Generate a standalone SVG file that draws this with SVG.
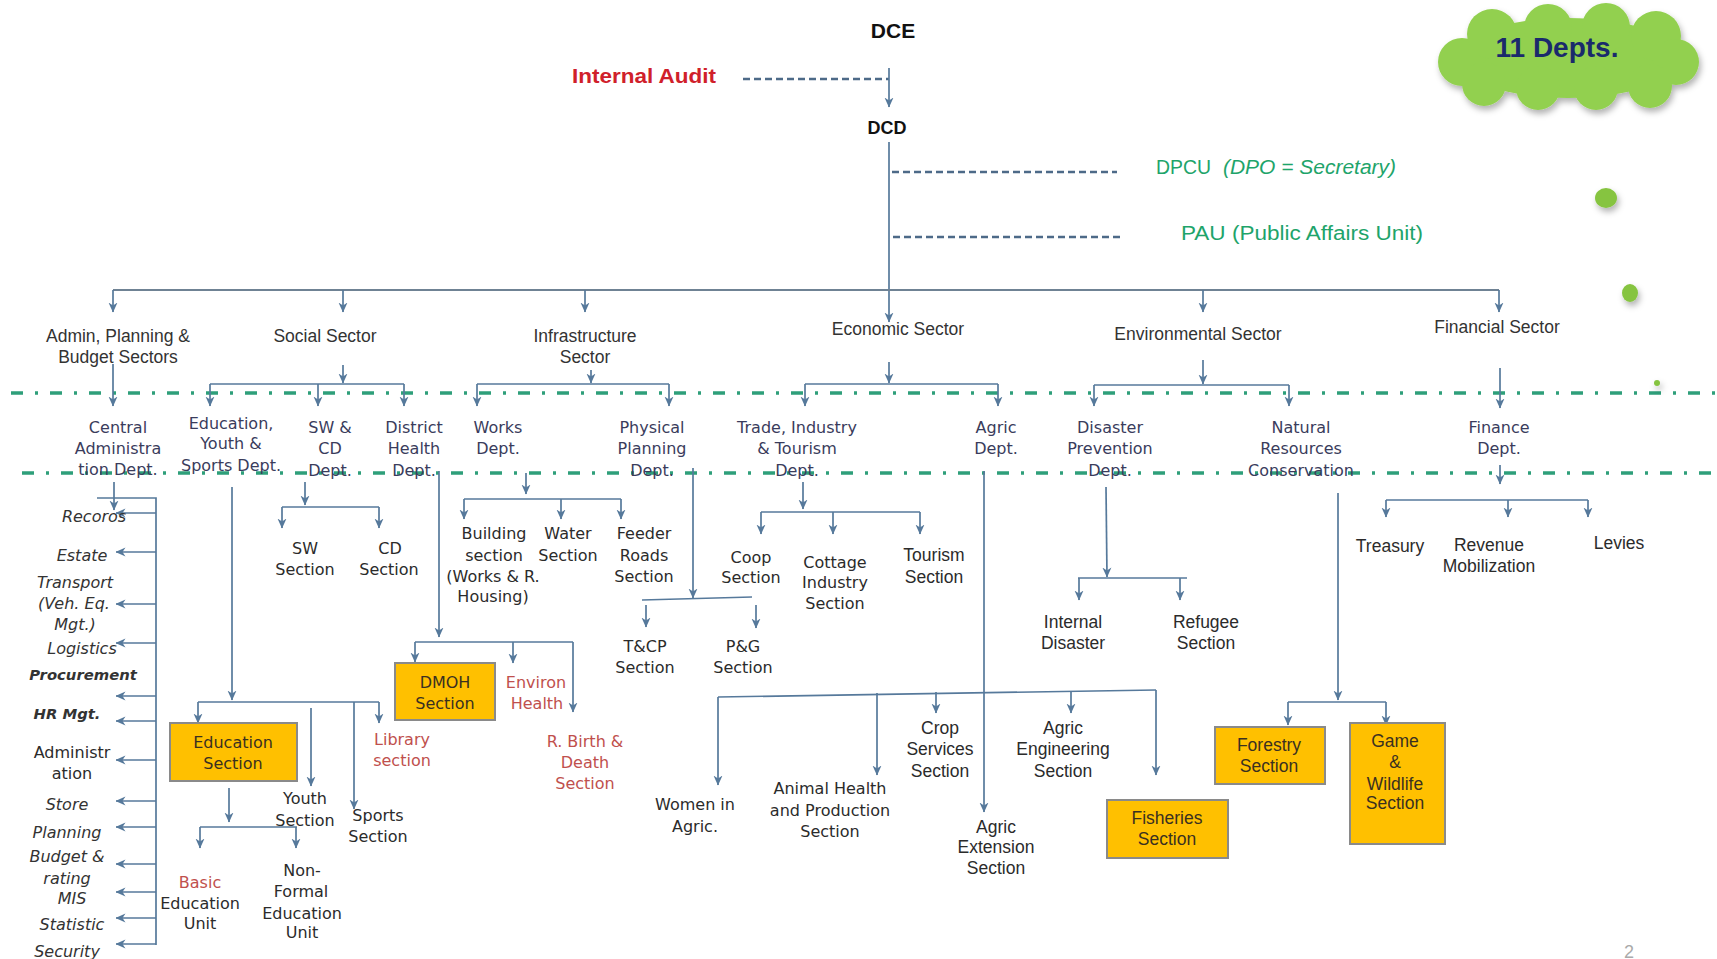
<svg xmlns="http://www.w3.org/2000/svg" width="1717" height="959" viewBox="0 0 1717 959">
<defs>
<style>
.sec{font-family:"Liberation Sans",Arial,sans-serif;font-size:17.5px;fill:#333;text-anchor:middle}
.dep{font-family:"DejaVu Sans",Verdana,sans-serif;font-size:16px;fill:#3a3c5c;text-anchor:middle}
.vs{font-family:"DejaVu Sans",Verdana,sans-serif;font-size:16px;fill:#2b2b2b;text-anchor:middle}
.cal{font-family:"Liberation Sans",Arial,sans-serif;font-size:17.5px;fill:#2b2b2b;text-anchor:middle}
.red{fill:#c0504d}
.it{font-family:"DejaVu Sans",Verdana,sans-serif;font-style:italic;font-size:16px;fill:#333;text-anchor:middle}
.itb{font-family:"DejaVu Sans",Verdana,sans-serif;font-style:italic;font-weight:bold;font-size:14.8px;fill:#333;text-anchor:middle}
.box{fill:#ffc000;stroke:#8a8a8a;stroke-width:2}
.bt{font-family:"DejaVu Sans",Verdana,sans-serif;font-size:16px;fill:#3a3020;text-anchor:middle}
.bc{font-family:"Liberation Sans",Arial,sans-serif;font-size:17.5px;fill:#3a3020;text-anchor:middle}
.c{stroke:#56799b;stroke-width:1.7;fill:none}
.a{marker-end:url(#ah)}
.main{stroke:#6f8294;stroke-width:2;fill:none}
.dash{stroke:#4d6a88;stroke-width:2.5;stroke-dasharray:7 4;fill:none}
.gl{stroke:#2e9f7a;stroke-width:3.5;stroke-dasharray:12 12 3 12;fill:none}
.grn{font-family:"Liberation Sans",Arial,sans-serif;font-size:20px;fill:#1ea46a}
</style>
<marker id="ah" viewBox="0 0 10 10" refX="9.5" refY="5" markerWidth="10" markerHeight="10" orient="auto" markerUnits="userSpaceOnUse">
<path d="M0,0.5 L10,5 L0,9.5 L3,5 Z" fill="#56799b"/>
</marker>
<filter id="sh" x="-15%" y="-15%" width="130%" height="140%">
<feDropShadow dx="2" dy="4" stdDeviation="3" flood-color="#000" flood-opacity="0.3"/>
</filter>
</defs>
<rect width="1717" height="959" fill="#fff"/>

<!-- separators -->
<g id="separators">
<line class="gl" x1="11" y1="393" x2="1717" y2="393"/>
<line class="gl" x1="22" y1="473" x2="1717" y2="473"/>
</g>

<!-- decoration -->
<g id="cloud">
<g filter="url(#sh)" fill="#92d050">
<ellipse cx="1568" cy="58" rx="112" ry="40"/>
<circle cx="1462" cy="62" r="24"/>
<circle cx="1492" cy="34" r="25"/>
<circle cx="1548" cy="28" r="24"/>
<circle cx="1606" cy="27" r="24"/>
<circle cx="1656" cy="36" r="25"/>
<circle cx="1676" cy="62" r="23"/>
<circle cx="1650" cy="86" r="22"/>
<circle cx="1596" cy="88" r="22"/>
<circle cx="1538" cy="88" r="22"/>
<circle cx="1484" cy="84" r="22"/>
</g>
<text x="1557" y="57" text-anchor="middle" font-family="Liberation Sans,Arial,sans-serif" font-weight="bold" font-size="28" fill="#1a2a6c">11 Depts.</text>
</g>
<g id="dots" fill="#86c440" filter="url(#sh)">
<ellipse cx="1606" cy="198" rx="11" ry="10"/>
<ellipse cx="1630" cy="293" rx="8" ry="9"/>
<circle cx="1657" cy="383" r="3"/>
</g>

<g id="connectors">
<path class="dash" d="M743,79 H889"/>
<path class="dash" d="M892,172 H1117"/>
<path class="dash" d="M893,237 H1120"/>
<path class="c a" d="M889,68 V107"/>
<path class="c a" d="M889,142 V322"/>
<path class="main" d="M113,290 H1499"/>
<path class="c a" d="M113,290 V312"/>
<path class="c a" d="M343,290 V312"/>
<path class="c a" d="M585,290 V312"/>
<path class="c a" d="M1203,290 V312"/>
<path class="c a" d="M1499,290 V312"/>
<!-- sector to dept -->
<path class="c a" d="M113,364 V406"/>
<path class="c a" d="M343,365 V383"/>
<path class="c" d="M210,384 H404"/>
<path class="c a" d="M210,384 V406"/>
<path class="c a" d="M318,384 V406"/>
<path class="c a" d="M404,384 V406"/>
<path class="c a" d="M591,370 V383"/>
<path class="c" d="M477,384 H669"/>
<path class="c a" d="M477,384 V406"/>
<path class="c a" d="M669,384 V406"/>
<path class="c a" d="M889,362 V383"/>
<path class="c" d="M805,384 H998"/>
<path class="c a" d="M805,384 V406"/>
<path class="c a" d="M998,384 V406"/>
<path class="c a" d="M1203,360 V384"/>
<path class="c" d="M1094,385 H1289"/>
<path class="c a" d="M1094,385 V406"/>
<path class="c a" d="M1289,385 V406"/>
<path class="c a" d="M1500,368 V408"/>
<!-- central administration -->
<path class="c a" d="M114,482 V510"/>
<path class="c" d="M97,498 H156 V945"/>
<path class="c a" d="M156,513 H116"/>
<path class="c a" d="M156,552 H116"/>
<path class="c a" d="M156,604 H116"/>
<path class="c a" d="M156,643 H116"/>
<path class="c a" d="M156,696 H116"/>
<path class="c a" d="M156,721 H116"/>
<path class="c a" d="M156,760 H116"/>
<path class="c a" d="M156,801 H116"/>
<path class="c a" d="M156,827 H116"/>
<path class="c a" d="M156,864 H116"/>
<path class="c a" d="M156,892 H116"/>
<path class="c a" d="M156,918 H116"/>
<path class="c a" d="M156,944 H116"/>
<!-- education -->
<path class="c a" d="M232,487 V700"/>
<path class="c" d="M198,702 H379"/>
<path class="c a" d="M198,702 V723"/>
<path class="c a" d="M379,702 V723"/>
<path class="c a" d="M311,708 V786"/>
<path class="c a" d="M354,702 V809"/>
<path class="c a" d="M229,788 V822"/>
<path class="c" d="M200,827 H297"/>
<path class="c a" d="M200,827 V848"/>
<path class="c a" d="M296,827 V848"/>
<!-- SW & CD -->
<path class="c a" d="M305,482 V505"/>
<path class="c" d="M282,507 H379"/>
<path class="c a" d="M282,507 V528"/>
<path class="c a" d="M379,507 V528"/>
<!-- district health -->
<path class="c a" d="M439,471 V637"/>
<path class="c" d="M415,642 H573"/>
<path class="c a" d="M415,642 V662"/>
<path class="c a" d="M513,642 V663"/>
<path class="c a" d="M573,642 V712"/>
<!-- works -->
<path class="c a" d="M526,473 V494"/>
<path class="c" d="M464,499 H621"/>
<path class="c a" d="M464,499 V519"/>
<path class="c a" d="M561,499 V519"/>
<path class="c a" d="M621,499 V519"/>
<!-- physical planning -->
<path class="c a" d="M693,468 V598"/>
<path class="c" d="M642,600 L752,597"/>
<path class="c a" d="M646,605 V627"/>
<path class="c a" d="M756,605 V628"/>
<!-- trade -->
<path class="c a" d="M803,482 V509"/>
<path class="c" d="M761,512 H920"/>
<path class="c a" d="M761,512 V534"/>
<path class="c a" d="M833,512 V534"/>
<path class="c a" d="M920,512 V534"/>
<!-- agric -->
<path class="c a" d="M984,471 V812"/>
<path class="c" d="M718,697 L1156,690"/>
<path class="c a" d="M718,697 V785"/>
<path class="c a" d="M877,693 V775"/>
<path class="c a" d="M936,692 V713"/>
<path class="c a" d="M1071,691 V713"/>
<path class="c a" d="M1156,690 V775"/>
<!-- disaster -->
<path class="c a" d="M1106,487 L1107,577"/>
<path class="c" d="M1078,578 H1187"/>
<path class="c a" d="M1079,578 V600"/>
<path class="c a" d="M1180,578 V600"/>
<!-- natural resources -->
<path class="c a" d="M1338,493 V700"/>
<path class="c" d="M1288,702 H1386"/>
<path class="c a" d="M1288,702 V725"/>
<path class="c a" d="M1386,702 V725"/>
<!-- finance -->
<path class="c a" d="M1500,465 V484"/>
<path class="c" d="M1386,500 H1588"/>
<path class="c a" d="M1386,500 V517"/>
<path class="c a" d="M1508,500 V517"/>
<path class="c a" d="M1588,500 V517"/>
</g>

<!-- top -->
<g id="dce"><text x="893" y="38" text-anchor="middle" font-family="Liberation Sans,Arial,sans-serif" font-weight="bold" font-size="21" fill="#111">DCE</text></g>
<g id="internal-audit"><text x="572" y="83" textLength="144" lengthAdjust="spacingAndGlyphs" font-family="Liberation Sans,Arial,sans-serif" font-weight="bold" font-size="21" fill="#d0202a">Internal Audit</text></g>
<g id="dcd"><text x="887" y="134" text-anchor="middle" font-family="Liberation Sans,Arial,sans-serif" font-weight="bold" font-size="18" fill="#111">DCD</text></g>
<g id="dpcu"><text class="grn" x="1156" y="174" textLength="55" lengthAdjust="spacingAndGlyphs">DPCU</text><text class="grn" x="1223" y="174" font-style="italic" textLength="173" lengthAdjust="spacingAndGlyphs">(DPO = Secretary)</text></g>
<g id="pau"><text class="grn" x="1181" y="240" textLength="242" lengthAdjust="spacingAndGlyphs">PAU (Public Affairs Unit)</text></g>

<!-- sectors -->
<g id="sector-admin"><text class="sec" x="118" y="342">Admin, Planning &amp;</text><text class="sec" x="118" y="363">Budget Sectors</text></g>
<g id="sector-social"><text class="sec" x="325" y="342">Social Sector</text></g>
<g id="sector-infra"><text class="sec" x="585" y="342">Infrastructure</text><text class="sec" x="585" y="363">Sector</text></g>
<g id="sector-economic"><text class="sec" x="898" y="335">Economic Sector</text></g>
<g id="sector-environmental"><text class="sec" x="1198" y="340">Environmental Sector</text></g>
<g id="sector-financial"><text class="sec" x="1497" y="333">Financial Sector</text></g>

<!-- departments -->
<g id="dept-central"><text class="dep" x="118" y="433">Central</text><text class="dep" x="118" y="454">Administra</text><text class="dep" x="118" y="475">tion Dept.</text></g>
<g id="dept-education"><text class="dep" x="231" y="429">Education,</text><text class="dep" x="231" y="449">Youth &amp;</text><text class="dep" x="231" y="471">Sports Dept.</text></g>
<g id="dept-swcd"><text class="dep" x="330" y="433">SW &amp;</text><text class="dep" x="330" y="454">CD</text><text class="dep" x="330" y="476">Dept.</text></g>
<g id="dept-health"><text class="dep" x="414" y="433">District</text><text class="dep" x="414" y="454">Health</text><text class="dep" x="414" y="476">Dept.</text></g>
<g id="dept-works"><text class="dep" x="498" y="433">Works</text><text class="dep" x="498" y="454">Dept.</text></g>
<g id="dept-physical"><text class="dep" x="652" y="433">Physical</text><text class="dep" x="652" y="454">Planning</text><text class="dep" x="652" y="476">Dept.</text></g>
<g id="dept-trade"><text class="dep" x="797" y="433">Trade, Industry</text><text class="dep" x="797" y="454">&amp; Tourism</text><text class="dep" x="797" y="476">Dept.</text></g>
<g id="dept-agric"><text class="dep" x="996" y="433">Agric</text><text class="dep" x="996" y="454">Dept.</text></g>
<g id="dept-disaster"><text class="dep" x="1110" y="433">Disaster</text><text class="dep" x="1110" y="454">Prevention</text><text class="dep" x="1110" y="476">Dept.</text></g>
<g id="dept-natural"><text class="dep" x="1301" y="433">Natural</text><text class="dep" x="1301" y="454">Resources</text><text class="dep" x="1301" y="476">Conservation</text></g>
<g id="dept-finance"><text class="dep" x="1499" y="433">Finance</text><text class="dep" x="1499" y="454">Dept.</text></g>

<!-- central administration units -->
<g id="units-central">
<text class="it" x="94" y="522">Recoros</text>
<text class="it" x="82" y="561">Estate</text>
<text class="it" x="75" y="588">Transport</text>
<text class="it" x="74" y="609">(Veh. Eq.</text>
<text class="it" x="75" y="630">Mgt.)</text>
<text class="it" x="82" y="654">Logistics</text>
<text class="itb" x="83" y="680">Procurement</text>
<text class="itb" x="67" y="719">HR Mgt.</text>
<text class="vs" x="72" y="758" font-size="15.5">Administr</text>
<text class="vs" x="72" y="779" font-size="15.5">ation</text>
<text class="it" x="67" y="810">Store</text>
<text class="it" x="67" y="838">Planning</text>
<text class="it" x="67" y="862">Budget &amp;</text>
<text class="it" x="67" y="884">rating</text>
<text class="it" x="72" y="904">MIS</text>
<text class="it" x="72" y="930">Statistic</text>
<text class="it" x="67" y="957">Security</text>
</g>

<!-- social sections -->
<g id="education-section"><rect class="box" x="170" y="723" width="127" height="58"/><text class="bt" x="233" y="748">Education</text><text class="bt" x="233" y="769">Section</text></g>
<g id="youth-section"><text class="vs" x="305" y="804">Youth</text><text class="vs" x="305" y="826">Section</text></g>
<g id="sports-section"><text class="vs" x="378" y="821">Sports</text><text class="vs" x="378" y="842">Section</text></g>
<g id="library-section"><text class="vs red" x="402" y="745">Library</text><text class="vs red" x="402" y="766">section</text></g>
<g id="basic-education"><text class="vs red" x="200" y="888">Basic</text><text class="vs" x="200" y="909">Education</text><text class="vs" x="200" y="929">Unit</text></g>
<g id="nonformal-education"><text class="vs" x="302" y="876">Non-</text><text class="vs" x="301" y="897">Formal</text><text class="vs" x="302" y="919">Education</text><text class="vs" x="302" y="938">Unit</text></g>
<g id="sw-section"><text class="vs" x="305" y="554">SW</text><text class="vs" x="305" y="575">Section</text></g>
<g id="cd-section"><text class="vs" x="390" y="554">CD</text><text class="vs" x="389" y="575">Section</text></g>
<g id="dmoh-section"><rect class="box" x="395" y="663" width="100" height="57"/><text class="bt" x="445" y="688">DMOH</text><text class="bt" x="445" y="709">Section</text></g>
<g id="environ-health"><text class="vs red" x="536" y="688">Environ</text><text class="vs red" x="537" y="709">Health</text></g>
<g id="birth-death"><text class="vs red" x="585" y="747">R. Birth &amp;</text><text class="vs red" x="585" y="768">Death</text><text class="vs red" x="585" y="789">Section</text></g>

<!-- infrastructure sections -->
<g id="building-section"><text class="vs" x="494" y="539">Building</text><text class="vs" x="494" y="561">section</text><text class="vs" x="493" y="582">(Works &amp; R.</text><text class="vs" x="493" y="602">Housing)</text></g>
<g id="water-section"><text class="vs" x="568" y="539">Water</text><text class="vs" x="568" y="561">Section</text></g>
<g id="feeder-roads"><text class="vs" x="644" y="539">Feeder</text><text class="vs" x="644" y="561">Roads</text><text class="vs" x="644" y="582">Section</text></g>
<g id="tcp-section"><text class="vs" x="645" y="652">T&amp;CP</text><text class="vs" x="645" y="673">Section</text></g>
<g id="pg-section"><text class="vs" x="743" y="652">P&amp;G</text><text class="vs" x="743" y="673">Section</text></g>

<!-- economic sections -->
<g id="coop-section"><text class="vs" x="751" y="563">Coop</text><text class="vs" x="751" y="583">Section</text></g>
<g id="cottage-section"><text class="vs" x="835" y="568">Cottage</text><text class="vs" x="835" y="588">Industry</text><text class="vs" x="835" y="609">Section</text></g>
<g id="tourism-section"><text class="cal" x="934" y="561">Tourism</text><text class="cal" x="934" y="583">Section</text></g>
<g id="women-agric"><text class="vs" x="695" y="810">Women in</text><text class="vs" x="695" y="832">Agric.</text></g>
<g id="animal-health"><text class="vs" x="830" y="794">Animal Health</text><text class="vs" x="830" y="816">and Production</text><text class="vs" x="830" y="837">Section</text></g>
<g id="crop-services"><text class="cal" x="940" y="734">Crop</text><text class="cal" x="940" y="755">Services</text><text class="cal" x="940" y="777">Section</text></g>
<g id="agric-engineering"><text class="cal" x="1063" y="734">Agric</text><text class="cal" x="1063" y="755">Engineering</text><text class="cal" x="1063" y="777">Section</text></g>
<g id="agric-extension"><text class="cal" x="996" y="833">Agric</text><text class="cal" x="996" y="853">Extension</text><text class="cal" x="996" y="874">Section</text></g>
<g id="fisheries-section"><rect class="box" x="1107" y="800" width="121" height="58"/><text class="bc" x="1167" y="824">Fisheries</text><text class="bc" x="1167" y="845">Section</text></g>

<!-- environmental sections -->
<g id="internal-disaster"><text class="cal" x="1073" y="628">Internal</text><text class="cal" x="1073" y="649">Disaster</text></g>
<g id="refugee-section"><text class="cal" x="1206" y="628">Refugee</text><text class="cal" x="1206" y="649">Section</text></g>
<g id="forestry-section"><rect class="box" x="1215" y="727" width="110" height="57"/><text class="bc" x="1269" y="751">Forestry</text><text class="bc" x="1269" y="772">Section</text></g>
<g id="game-wildlife"><rect class="box" x="1350" y="723" width="95" height="121"/><text class="bc" x="1395" y="747">Game</text><text class="bc" x="1395" y="768">&amp;</text><text class="bc" x="1395" y="790">Wildlife</text><text class="bc" x="1395" y="809">Section</text></g>

<!-- finance sections -->
<g id="treasury"><text class="cal" x="1390" y="552">Treasury</text></g>
<g id="revenue"><text class="cal" x="1489" y="551">Revenue</text><text class="cal" x="1489" y="572">Mobilization</text></g>
<g id="levies"><text class="cal" x="1619" y="549">Levies</text></g>

<g id="page-number"><text x="1629" y="958" text-anchor="middle" font-family="Liberation Sans,Arial,sans-serif" font-size="18" fill="#aaa">2</text></g>
</svg>
